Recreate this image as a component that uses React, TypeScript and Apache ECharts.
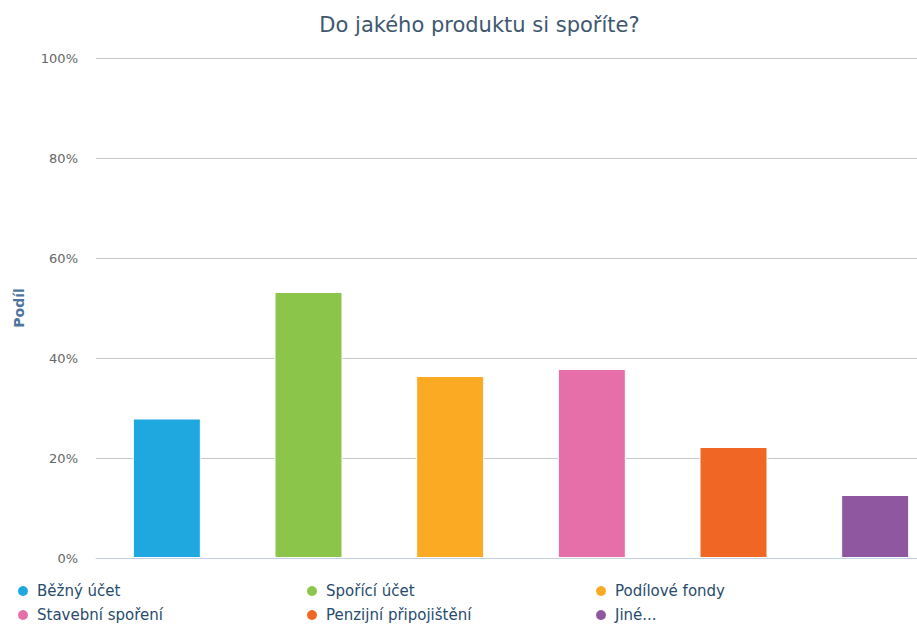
import React, { useEffect, useRef } from "react";
import * as echarts from "echarts";

const titleText = "Do jakého produktu si spoříte?";
const axisTitle = "Podíl";
const categories = [
  "Běžný účet",
  "Spořící účet",
  "Podílové fondy",
  "Stavební spoření",
  "Penzijní připojištění",
  "Jiné...",
];
const values = [27.9, 53.2, 36.4, 37.8, 22.2, 12.6];
const colors = ["#1fa8df", "#8bc64a", "#fbaa23", "#e66fa9", "#f06624", "#8f57a0"];
const yTicks = [0, 20, 40, 60, 80, 100];
const legendLefts = [16, 305, 594];
const legendRowCenters = [591, 615];

export default function App() {
  const ref = useRef<HTMLDivElement>(null);
  useEffect(() => {
    if (!ref.current) return;
    const chart = echarts.init(ref.current, undefined, { renderer: "svg" });
    const font = "DejaVu Sans";
    const series = categories.map((name, i) => ({
      name,
      type: "bar",
      stack: "all",
      barWidth: 68,
      itemStyle: { color: colors[i], borderColor: "#ffffff", borderWidth: 1 },
      data: categories.map((_, j) => (j === i ? values[i] : "-")),
    }));
    const legends = categories.map((name, i) => ({
      data: [name],
      left: legendLefts[i % 3],
      top: legendRowCenters[Math.floor(i / 3)] - 9,
      padding: 0,
      icon: "circle",
      itemWidth: 12,
      itemHeight: 12,
      selectedMode: false,
      textStyle: {
        fontFamily: font,
        fontSize: 15,
        lineHeight: 18,
        color: "#274b6d",
        padding: [0, 0, 0, 3],
      },
    }));
    chart.setOption({
      animation: false,
      graphic: [
        {
          type: "text",
          x: 479.5,
          y: 25,
          style: {
            text: titleText,
            fontFamily: font,
            fontSize: 21,
            fill: "#3e576f",
            textAlign: "center",
            textVerticalAlign: "middle",
          },
        },
      ],
      grid: { left: 96, top: 58, width: 850, height: 500, outerBoundsMode: "none" },
      xAxis: {
        type: "category",
        data: categories,
        boundaryGap: true,
        axisLine: { lineStyle: { color: "#c0d0e0", width: 1 } },
        axisTick: { alignWithLabel: true, length: 5, lineStyle: { color: "#c0d0e0" } },
        axisLabel: { show: false },
        splitLine: { show: false },
      },
      yAxis: {
        type: "value",
        min: yTicks[0],
        max: yTicks[yTicks.length - 1],
        interval: 20,
        name: axisTitle,
        nameLocation: "middle",
        nameGap: 70,
        nameTextStyle: { fontFamily: font, fontSize: 14, fontWeight: "bold", color: "#4d759e" },
        axisLine: { show: false },
        axisTick: { show: false },
        axisLabel: {
          formatter: "{value}%",
          margin: 18,
          fontFamily: font,
          fontSize: 13,
          color: "#666666",
        },
        splitLine: { lineStyle: { color: "#c8c8c8", width: 1 } },
      },
      legend: legends,
      series,
    });
    return () => chart.dispose();
  }, []);
  return (
    <div
      ref={ref}
      style={{ position: "fixed", left: 0, top: 0, width: 917, height: 625, background: "#fff" }}
    />
  );
}
